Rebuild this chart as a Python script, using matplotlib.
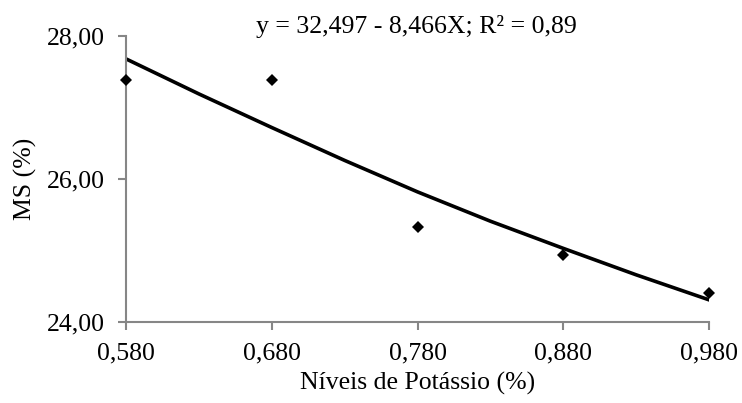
import matplotlib
matplotlib.use("Agg")
import matplotlib.pyplot as plt
from matplotlib.ticker import FuncFormatter

# observed points
potassio = [0.58, 0.68, 0.78, 0.88, 0.98]
ms_obs = [27.39, 27.39, 25.33, 24.94, 24.40]

# trend line
curva_x = [0.58, 0.63, 0.68, 0.73, 0.78, 0.83, 0.88, 0.93, 0.98]
curva_y = [27.68, 27.19, 26.72, 26.26, 25.82, 25.41, 25.03, 24.66, 24.31]

xticks = [0.58, 0.68, 0.78, 0.88, 0.98]
yticks = [24, 26, 28]
equacao = "y = 32,497 - 8,466X; R\u00b2 = 0,89"

plt.rcParams['font.family'] = ['Liberation Serif', 'DejaVu Serif']
grey = '#868686'
fs = 18.5

fig = plt.figure(figsize=(7.42, 4.03), dpi=100)
ax = fig.add_axes([126/742, 1-322/403, (709-126)/742, (322-36)/403])

ax.plot(curva_x, curva_y, color='black', lw=2.6, solid_joinstyle='round', zorder=2)
ax.plot(potassio, ms_obs, linestyle='none', marker='D', ms=6.6,
        color='black', markeredgewidth=0, zorder=3, clip_on=False)

ax.set_xlim(0.58, 0.98)
ax.set_ylim(24, 28)
ax.set_xticks(xticks)
ax.set_yticks(yticks)
ax.xaxis.set_major_formatter(FuncFormatter(lambda v, p: ("%.3f" % v).replace('.', ',')))
ax.yaxis.set_major_formatter(FuncFormatter(lambda v, p: ("%.2f" % v).replace('.', ',')))

for s in ['top', 'right']:
    ax.spines[s].set_visible(False)
for s in ['left', 'bottom']:
    ax.spines[s].set_color(grey)
    ax.spines[s].set_linewidth(1.5)
ax.tick_params(axis='both', direction='out', color=grey, width=1.5,
               length=6, labelsize=fs, labelcolor='black')
ax.tick_params(axis='y', pad=9)
ax.tick_params(axis='x', pad=9)

ax.set_xlabel('Níveis de Potássio (%)', fontsize=fs, labelpad=5)
ax.set_ylabel('MS (%)', fontsize=fs, labelpad=7)

fig.text(416/742, 1-33/403, equacao, fontsize=fs, ha='center', va='baseline')

fig.savefig('out.png', dpi=100)
